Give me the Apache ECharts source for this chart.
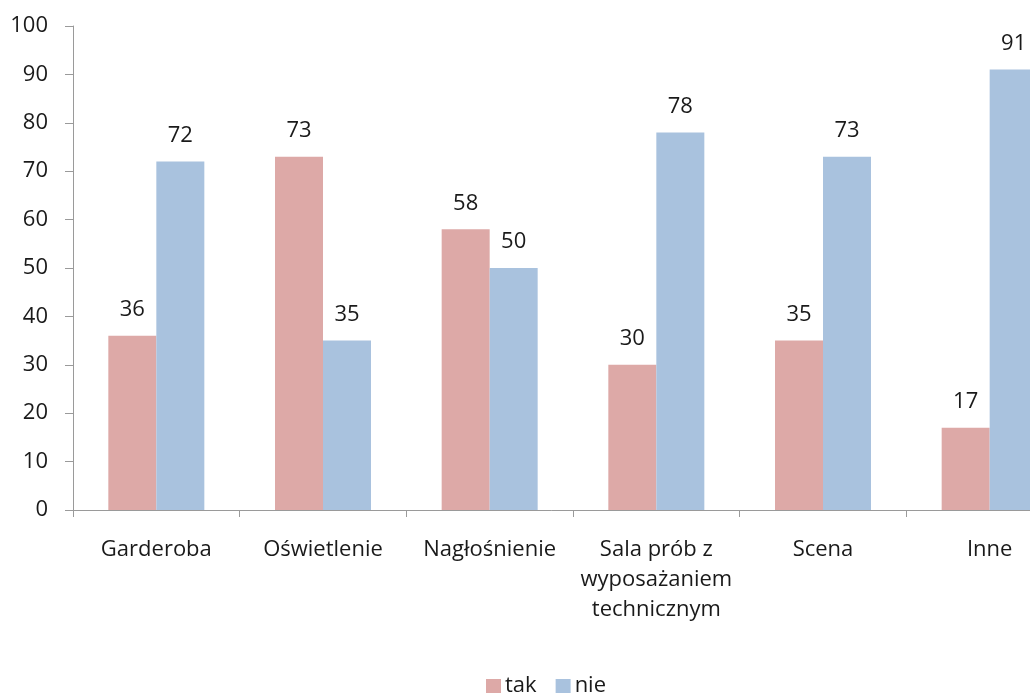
<!DOCTYPE html>
<html>
<head>
<meta charset="utf-8">
<script src="https://cdn.jsdelivr.net/npm/echarts@6/dist/echarts.min.js"></script>
<style>
html,body{margin:0;padding:0;background:#fff;}
#chart{width:1030px;height:694px;}
</style>
</head>
<body>
<div id="chart"></div>
<script>
const categories = ['Garderoba', 'Oświetlenie', 'Nagłośnienie', 'Sala prób z\nwyposażaniem\ntechnicznym', 'Scena', 'Inne'];
const seriesNames = ['tak', 'nie'];
const takValues = [36, 73, 58, 30, 35, 17];
const nieValues = [72, 35, 50, 78, 73, 91];
const yTicks = [0, 10, 20, 30, 40, 50, 60, 70, 80, 90, 100];

const FONT = '"Open Sans", "Liberation Sans", sans-serif';
const chart = echarts.init(document.getElementById('chart'), null, {renderer: 'canvas'});
const labelStyle = {
  show: true,
  position: 'top',
  distance: 15,
  color: '#1a1a1a',
  fontSize: 22,
  fontFamily: FONT
};
chart.setOption({
  animation: false,
  backgroundColor: '#ffffff',
  grid: {left: 73, top: 26, width: 1000, height: 484, containLabel: false, outerBoundsMode: 'none'},
  legend: {
    data: seriesNames,
    left: 486,
    top: 675,
    padding: 0,
    itemWidth: 15,
    itemHeight: 14,
    itemGap: 19,
    icon: 'rect',
    textStyle: {fontSize: 22, fontFamily: FONT, color: '#1a1a1a', padding: [0, 0, 0, -1]}
  },
  xAxis: {
    type: 'category',
    data: categories,
    axisLine: {show: true, lineStyle: {color: '#9a9a9a', width: 1}},
    axisTick: {show: true, length: 7, alignWithLabel: false, lineStyle: {color: '#9a9a9a'}},
    axisLabel: {
      interval: 0,
      margin: 25,
      fontSize: 22,
      lineHeight: 30,
      fontFamily: FONT,
      color: '#1a1a1a'
    }
  },
  yAxis: {
    type: 'value',
    min: yTicks[0],
    max: yTicks[yTicks.length - 1],
    interval: 10,
    splitLine: {show: false},
    axisLine: {show: true, lineStyle: {color: '#9a9a9a', width: 1}},
    axisTick: {show: true, length: 8, lineStyle: {color: '#9a9a9a'}},
    axisLabel: {margin: 25, fontSize: 22, fontFamily: FONT, color: '#1a1a1a'}
  },
  series: [
    {
      name: seriesNames[0],
      type: 'bar',
      data: takValues,
      barWidth: 48,
      barGap: '0%',
      itemStyle: {color: '#DDA9A7'},
      label: labelStyle
    },
    {
      name: seriesNames[1],
      type: 'bar',
      data: nieValues,
      barWidth: 48,
      barGap: '0%',
      itemStyle: {color: '#A9C2DE'},
      label: labelStyle
    }
  ]
});
</script>
</body>
</html>
